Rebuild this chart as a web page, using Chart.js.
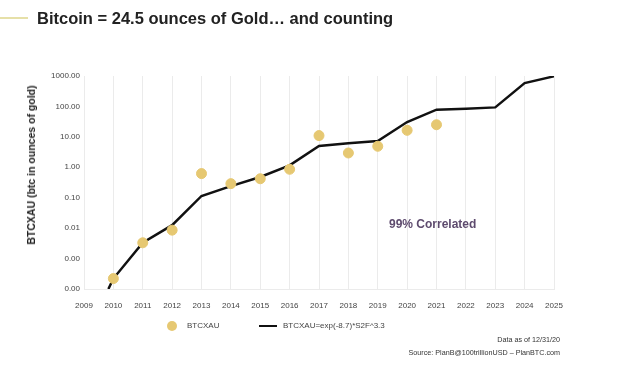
<!DOCTYPE html>
<html>
<head>
<meta charset="utf-8">
<script src="https://cdn.jsdelivr.net/npm/chart.js@4"></script>
<style>
  html, body { margin: 0; padding: 0; background: #ffffff; }
  body { width: 624px; height: 365px; position: relative; overflow: hidden; font-family: "Liberation Sans", Arial, Helvetica, sans-serif; }
  #wrap { position: absolute; left: 0; top: 0; width: 624px; height: 365px; }
  .abs { position: absolute; white-space: nowrap; }
  #rule { position: absolute; left: 0; top: 17px; width: 28px; height: 2px; background: #e6e0a8; }
  #title { left: 37px; top: 9px; font-size: 16.5px; font-weight: bold; color: #222; }
  #ytitle { left: 31px; top: 165px; font-size: 10.5px; font-weight: bold; color: #222; transform: translate(-50%, -50%) rotate(-90deg); }
  #corr { left: 389px; top: 217px; font-size: 12px; font-weight: bold; color: #5e4b6e; }
  .foot { right: 64px; font-size: 7.2px; color: #333; }
  #legend { position: absolute; top: 320px; left: 166px; height: 12px; font-size: 8px; color: #444; }
  .lg { position: absolute; top: 0; white-space: nowrap; line-height: 12px; }
</style>
</head>
<body>
<div id="wrap"><canvas id="c" width="624" height="365"></canvas></div>
<div id="rule"></div>
<div id="title" class="abs">Bitcoin = 24.5 ounces of Gold… and counting</div>
<div id="ytitle" class="abs">BTCXAU (btc in ounces of gold)</div>
<div id="corr" class="abs">99% Correlated</div>
<div class="abs foot" style="top:335px">Data as of 12/31/20</div>
<div class="abs foot" style="top:348px">Source: PlanB@100trillionUSD – PlanBTC.com</div>
<div id="legend"></div>
<script>
// ---- data ----
const pointYears = [2010, 2011, 2012, 2013, 2014, 2015, 2016, 2017, 2018, 2019, 2020, 2021];
const btcxau     = [0.00022, 0.0033, 0.0086, 0.62, 0.29, 0.42, 0.86, 11, 2.95, 4.9, 16.4, 25];
const modelYears = [2009.83, 2010, 2011, 2012, 2013, 2014, 2015, 2016, 2017, 2018, 2019, 2020, 2021, 2022, 2023, 2024, 2025];
const modelVals  = [0.0001, 0.00022, 0.0033, 0.0125, 0.114, 0.24, 0.48, 1.16, 5.0, 6.2, 7.3, 30.7, 78, 84, 93, 585, 975];
const yTicks     = [0.0001, 0.001, 0.01, 0.1, 1, 10, 100, 1000];
const xTickYears = [2009, 2010, 2011, 2012, 2013, 2014, 2015, 2016, 2017, 2018, 2019, 2020, 2021, 2022, 2023, 2024, 2025];
const seriesNames = ["BTCXAU", "BTCXAU=exp(-8.7)*S2F^3.3"];

const gold = "#e6c872";
const tickFont = { family: "'Liberation Sans', Arial, sans-serif", size: 8 };

const chart = new Chart(document.getElementById("c"), {
  type: "line",
  data: {
    datasets: [
      {
        label: seriesNames[0],
        data: pointYears.map((y, i) => ({ x: y, y: btcxau[i] })),
        showLine: false,
        pointRadius: 5,
        pointHoverRadius: 5,
        pointBackgroundColor: gold,
        pointBorderColor: gold,
        backgroundColor: gold,
        borderColor: gold,
        order: 0
      },
      {
        label: seriesNames[1],
        data: modelYears.map((y, i) => ({ x: y, y: modelVals[i] })),
        borderColor: "#111111",
        backgroundColor: "#111111",
        borderWidth: 2.5,
        pointRadius: 0,
        tension: 0,
        order: 1
      }
    ]
  },
  options: {
    responsive: false,
    animation: false,
    devicePixelRatio: 1,
    layout: { padding: { left: 20, top: 76, right: 70, bottom: 56 } },
    plugins: { legend: { display: false }, tooltip: { enabled: false } },
    scales: {
      x: {
        type: "linear",
        min: 2009,
        max: 2025,
        afterBuildTicks: (s) => { s.ticks = xTickYears.map(v => ({ value: v })); },
        afterFit: (s) => { s.height = 20; },
        ticks: { callback: (v) => String(v), font: tickFont, color: "#444", padding: 12, maxRotation: 0, autoSkip: false },
        grid: { color: "#ebebeb", drawTicks: false, lineWidth: 1 },
        border: { color: "#ebebeb" }
      },
      y: {
        type: "logarithmic",
        min: 0.0001,
        max: 1000,
        afterBuildTicks: (s) => { s.ticks = yTicks.map(v => ({ value: v })); },
        afterFit: (s) => { s.width = 64; },
        ticks: { callback: (v) => Number(v).toFixed(2), font: tickFont, color: "#444", padding: 4, autoSkip: false },
        grid: { display: false, drawTicks: false },
        border: { color: "#ebebeb" }
      }
    }
  }
});

// HTML legend built from the datasets
const lg = document.getElementById("legend");
chart.data.datasets.forEach((ds, i) => {
  const sw = document.createElement("div");
  sw.className = "lg";
  if (i === 0) {
    sw.style.left = "1px";
    sw.innerHTML = '<span style="display:inline-block;width:10px;height:10px;border-radius:50%;background:' + gold + ';vertical-align:middle"></span>';
    const t = document.createElement("div"); t.className = "lg"; t.style.left = "21px"; t.textContent = ds.label; lg.appendChild(t);
  } else {
    sw.style.left = "93px";
    sw.innerHTML = '<span style="display:inline-block;width:18px;height:2.5px;background:#111;vertical-align:middle"></span>';
    const t = document.createElement("div"); t.className = "lg"; t.style.left = "117px"; t.textContent = ds.label; lg.appendChild(t);
  }
  lg.appendChild(sw);
});
</script>
</body>
</html>
